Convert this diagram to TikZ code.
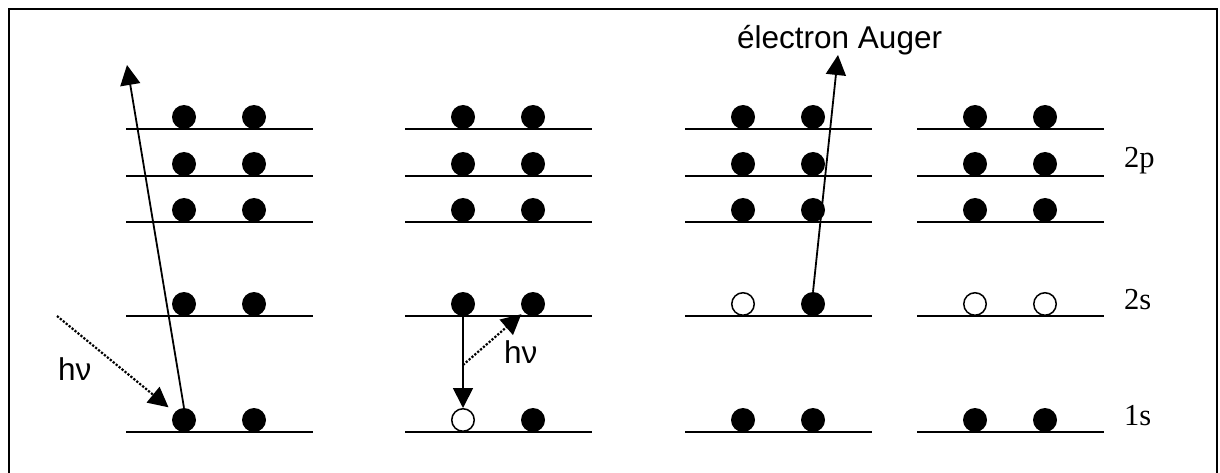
\documentclass[tikz,border=0pt]{standalone}
\usepackage{fontspec}
\setmainfont{Liberation Serif}
\newfontfamily\arialf{Liberation Sans}
\usetikzlibrary{arrows.meta}
\begin{document}
\begin{tikzpicture}[x=1pt,y=-1pt,
  level/.style={line width=2pt},
  el/.style={circle,fill=black,inner sep=0pt,minimum size=24pt},
  hole/.style={circle,draw=black,line width=1.5pt,fill=white,inner sep=0pt,minimum size=22.5pt},
  arr/.style={line width=1.8pt,-{Triangle[length=20pt,width=20pt]}},
  dotarr/.style={line width=2.2pt,dash pattern=on 2.2pt off 1.6pt,-{Triangle[length=20pt,width=20pt]}},
  sanslbl/.style={inner sep=0pt,anchor=base west,font=\arialf\fontsize{31.5}{36}\selectfont},
  seriflbl/.style={inner sep=0pt,anchor=base west,font=\fontsize{30.5}{36}\selectfont}
]
\useasboundingbox (0,0) rectangle (1220,473);
% frame
\draw[line width=2pt] (9,473) -- (9,9) -- (1217,9) -- (1217,473);
% levels
\foreach \px in {126,405,685,917} {
  \foreach \ly in {129,176,222,316,432} {
    \draw[level] (\px,\ly) -- ++(187,0);
  }
}
% electrons (filled)
\foreach \px/\pn in {126/1,405/2,685/3,917/4} {
  \foreach \ly/\ln in {129/a,176/b,222/c} {
    \node[el] (e\pn\ln L) at (\px+58,\ly-12) {};
    \node[el] (e\pn\ln R) at (\px+128,\ly-12) {};
  }
}
\node[el] (e1dL) at (184,304) {};
\node[el] (e1dR) at (254,304) {};
\node[el] (e1eL) at (184,420) {};
\node[el] (e1eR) at (254,420) {};
\node[el] (e2dL) at (463,304) {};
\node[el] (e2dR) at (533,304) {};
\node[hole] (e2eL) at (463,420) {};
\node[el] (e2eR) at (533,420) {};
\node[hole] (e3dL) at (743,304) {};
\node[el] (e3dR) at (813,304) {};
\node[el] (e3eL) at (743,420) {};
\node[el] (e3eR) at (813,420) {};
\node[hole] (e4dL) at (975,304) {};
\node[hole] (e4dR) at (1045,304) {};
\node[el] (e4eL) at (975,420) {};
\node[el] (e4eR) at (1045,420) {};
% arrow ends
\coordinate (t1) at (127,65);
\coordinate (hv1) at (57,316);
\coordinate (hv2) at (463,365);
\coordinate (aug) at (838,55);
% panel 1
\draw[arr] (e1eL.north) -- (t1);
\draw[dotarr,shorten >=20pt] (hv1) -- (e1eL.center);
\node[sanslbl] (l1) at (58,380) {hν};
% panel 2
\draw[arr] (e2dL.south) -- (e2eL.north);
\draw[dotarr,shorten >=15.5pt] (hv2) -- (e2dR.center);
\node[sanslbl] (l2) at (504,363) {hν};
% panel 3
\draw[arr] (e3dR.north) -- (aug);
\node[sanslbl] (l3) at (737,49) {électron Auger};
% shell labels
\node[seriflbl] (s2p) at (1124,168) {2p};
\node[seriflbl] (s2s) at (1124,309) {2s};
\node[seriflbl] (s1s) at (1124,425) {1s};
\end{tikzpicture}
\end{document}
